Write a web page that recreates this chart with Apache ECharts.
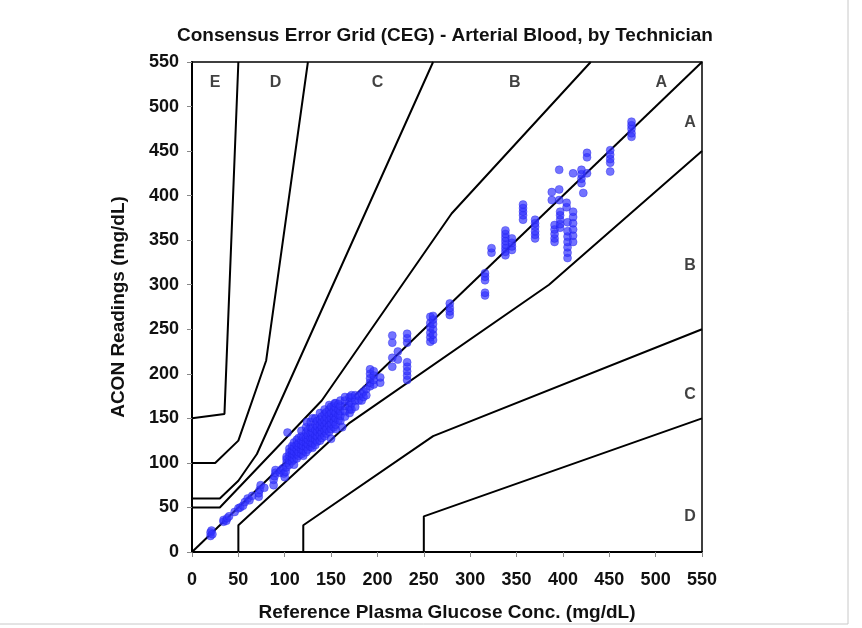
<!DOCTYPE html>
<html>
<head>
<meta charset="utf-8">
<script src="https://cdn.jsdelivr.net/npm/echarts@6/dist/echarts.min.js"></script>
<style>
html,body{margin:0;padding:0;background:#fff;}
#chart{width:862px;height:628px;}
</style>
</head>
<body>
<div id="chart"></div>
<script>
// zone boundaries (reference, reading)
var lineIdentity = [[0,0],[550,550]];
var upperE = [[0,150],[35,155],[50,550]];
var upperD = [[0,100],[25,100],[50,125],[80,215],[125,550]];
var upperC = [[0,60],[30,60],[50,80],[70,110],[260,550]];
var upperA = [[0,50],[30,50],[140,170],[280,380],[430,550]];
var lowerA = [[50,0],[50,30],[170,145],[385,300],[550,450]];
var lowerB = [[120,0],[120,30],[260,130],[550,250]];
var lowerC = [[250,0],[250,40],[550,150]];

// zone letters
var zoneNames = ['E','D','C','B','A','A','B','C','D'];
var zoneX = [25,90,200,348,506,537,537,537,537];
var zoneY = [527,527,527,527,527,482,321,177,40];

// measurements: reference value -> readings
var refs = [20,21,22,34,37,38,40,46,50,52,55,57,60,62,65,72,73,74,78,88,89,90,95,96,98,99,100,101,103,
  102,105,108,110,113,115,118,120,123,124,125,128,130,133,135,138,140,143,145,148,150,153,154,155,158,160,162,165,170,172,176,180,183,185,188,
  192,196,203,216,222,232,257,260,278,316,323,338,345,357,370,388,391,396,397,404,405,411,420,422,426,451,474];
var readings = [
  [18,22],[24],[20],[34,36],[35],[38],[40],[45],[49],[50],[52],[56],[60],[58],[63],
  [62,66],[70],[75],[72],[75,81],[85],[89,92],[89],[92],[94],[88],[84],[90],[134],
  [95,100,104,107],[98,103,108,112,116],[102,106,110,114,119],[98,104,109,113,118,123],
  [105,110,115,120,126],[108,112,118,122,128],[110,115,120,125,130,136],[108,114,119,124,129],
  [112,118,123,128,134,140],[146],[115,121,126,131,137],[118,123,128,133,140,146],[117,122,128,134,139,150],
  [120,126,131,137,143,150],[124,130,135,141,147],[125,131,137,143,149,156],[128,134,140,146,152],
  [130,136,142,148,155,160],[133,138,145,151,157],[135,142,148,154,160,165],[127,138,144,150,156,163],
  [140,146,152,158,164],[167],[138,143,150,156,162,167],[148,154,160,166],[147,153,158,164,170],[140],
  [152,158,164,170,174],[156,160,163,169,174],[160,167,173,176],[163,170,176],[170,175],[170,178],[174,180],[176,183],
  [186,190,195,200,205],[188,193,198,203],[190,196],[208,218,235,243],[216,225],
  [193,198,203,208,213,235,240,245],[236,241,246,252,257,264],[238,244,250,256,261,265],[266,270,274,279],
  [288,291,305,309,313],[336,341],[333,337,341,345,349,353,357,361],[339,343,347,352],
  [373,378,382,386,390],[352,356,360,365,369,373],[395,404],[348,352,357,362,367],[395,407,429],
  [364,368,373,378,382],[387,392],[330,336,342,348,354,360,370],[348,355,362,369,376,382,425],
  [414,419,424,429],[403],[425,443,448],[427,437,441,446,451],[466,470,475,479,483]
];

var points = [];
for (var i = 0; i < refs.length; i++) {
  for (var j = 0; j < readings[i].length; j++) {
    points.push([refs[i], readings[i][j]]);
  }
}
var labels = [];
for (var k = 0; k < zoneNames.length; k++) {
  labels.push({value: [zoneX[k], zoneY[k]], name: zoneNames[k]});
}

var fontFam = '"Liberation Sans", Arial, sans-serif';
function boundary(d) {
  return {
    type: 'line', data: d, symbol: 'none', silent: true, z: 3,
    lineStyle: {color: '#000', width: 2}
  };
}

var myChart = echarts.init(document.getElementById('chart'));
var option = {
  animation: false,
  backgroundColor: '#fff',
  graphic: [{
    type: 'rect', shape: {x: -2, y: -2, width: 850, height: 626},
    style: {fill: 'none', stroke: '#c8c8c8', lineWidth: 1}, silent: true
  }],
  title: {
    text: 'Consensus Error Grid (CEG) - Arterial Blood, by Technician',
    left: 440, top: 21, textAlign: 'center',
    textStyle: {fontFamily: fontFam, fontSize: 19, fontWeight: 'bold', color: '#111'}
  },
  grid: {left: 192, right: 160, top: 62, bottom: 76, show: true, borderColor: '#000', borderWidth: 1.5},
  xAxis: {
    type: 'value', min: 0, max: 550, interval: 50,
    name: 'Reference Plasma Glucose Conc. (mg/dL)', nameLocation: 'middle', nameGap: 51,
    nameTextStyle: {fontFamily: fontFam, fontSize: 19, fontWeight: 'bold', color: '#111'},
    axisLine: {lineStyle: {color: '#000', width: 2}},
    axisTick: {show: true, length: 5, lineStyle: {color: '#888'}},
    axisLabel: {fontFamily: fontFam, fontSize: 18, fontWeight: 'bold', color: '#111', margin: 19},
    splitLine: {show: false}
  },
  yAxis: {
    type: 'value', min: 0, max: 550, interval: 50,
    name: 'ACON Readings (mg/dL)', nameLocation: 'middle', nameGap: 64,
    nameTextStyle: {fontFamily: fontFam, fontSize: 19, fontWeight: 'bold', color: '#111'},
    axisLine: {lineStyle: {color: '#000', width: 2}},
    axisTick: {show: true, length: 5, lineStyle: {color: '#888'}},
    axisLabel: {fontFamily: fontFam, fontSize: 18, fontWeight: 'bold', color: '#111', margin: 13},
    splitLine: {show: false}
  },
  series: [
    boundary(lineIdentity), boundary(upperE), boundary(upperD), boundary(upperC),
    boundary(upperA), boundary(lowerA), boundary(lowerB), boundary(lowerC),
    {
      type: 'scatter', data: points, symbolSize: 8, z: 5,
      itemStyle: {color: 'rgba(50,50,255,0.85)', borderColor: 'rgba(30,30,230,0.9)', borderWidth: 0.5}
    },
    {
      type: 'scatter', data: labels, symbolSize: 0, silent: true,
      label: {show: true, position: 'inside', formatter: '{b}', fontFamily: fontFam, fontSize: 16, fontWeight: 'bold', color: '#111'}
    }
  ]
};
myChart.setOption(option);
</script>
</body>
</html>
